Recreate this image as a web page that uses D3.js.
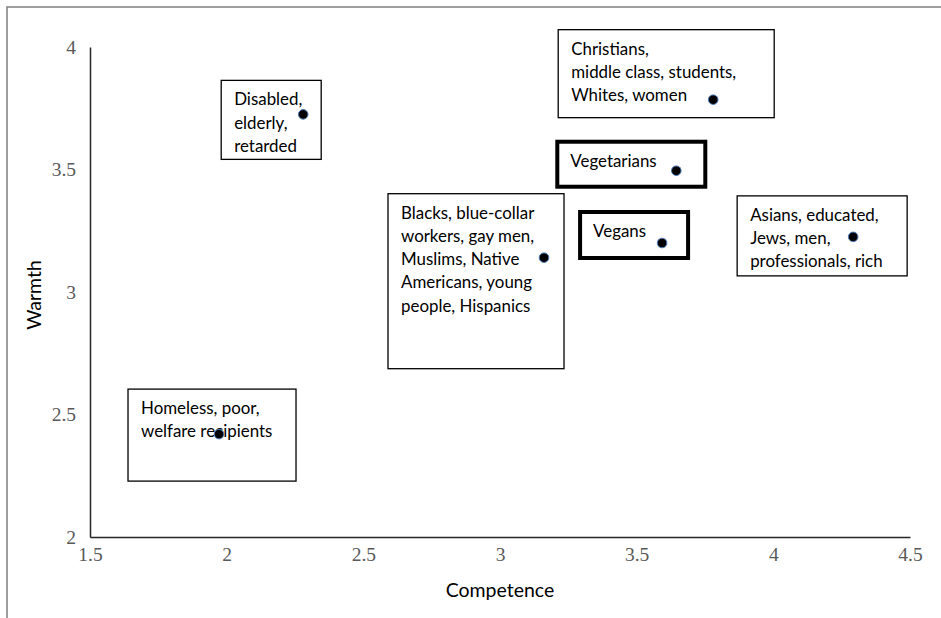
<!DOCTYPE html>
<html><head><meta charset="utf-8">
<script src="https://cdn.jsdelivr.net/npm/d3@7"></script>
<style>body{margin:0;background:#fff;} svg{display:block;}</style>
</head><body>
<svg id="chart" width="941" height="618"></svg>
<script>
// Data
const groups = ["Disabled","Christians","Vegetarians","Vegans","Blacks","Asians","Homeless"];
const competence = [2.28, 3.78, 3.645, 3.593, 3.161, 4.292, 1.972];
const warmth = [3.725, 3.785, 3.495, 3.2, 3.14, 3.225, 2.42];
const labelLines = [
  ["Disabled,","elderly,","retarded"],
  ["Christians,","middle class, students,","Whites, women"],
  ["Vegetarians"],
  ["Vegans"],
  ["Blacks, blue-collar","workers, gay men,","Muslims, Native","Americans, young","people, Hispanics"],
  ["Asians, educated,","Jews, men,","professionals, rich"],
  ["Homeless, poor,","welfare recipients"]
];
const highlighted = [false,false,true,true,false,false,false];
const xTicks = [1.5,2,2.5,3,3.5,4,4.5];
const yTicks = [2,2.5,3,3.5,4];
// label box layout (pixel offsets relative to point: left, top, width, height)
const boxLayout = [
  [-82,-34,100,79],
  [-155,-70,216,88],
  [-119,-29,148,45],
  [-82,-31,108,46],
  [-156,-64,176,175],
  [-116,-41,170,80],
  [-91,-45,168,92]
];

const svg = d3.select("#chart");
const x = d3.scaleLinear().domain([1.5,4.5]).range([90,910]);
const y = d3.scaleLinear().domain([2,4]).range([537,47]);

// outer frame (top & left)
svg.append("path").attr("d","M7,618 V7 H941").attr("fill","none").attr("stroke","#7f7f7f").attr("stroke-width",1.5);

// axes
const xAxis = svg.append("g").attr("transform","translate(0,537)")
  .call(d3.axisBottom(x).tickValues(xTicks).tickSize(0).tickPadding(10).tickFormat(d3.format("")));
const yAxis = svg.append("g").attr("transform","translate(90,0)")
  .call(d3.axisLeft(y).tickValues(yTicks).tickSize(0).tickPadding(14).tickFormat(d3.format("")));
[xAxis,yAxis].forEach(a=>{
  a.select(".domain").attr("stroke","#262626").attr("stroke-width",1.5);
  a.selectAll("text").attr("font-family","'Liberation Serif', serif").attr("font-size",19.5).attr("fill","#595959");
});
yAxis.selectAll("text").attr("dy","0.32em");

// axis titles
svg.append("text").attr("x",500).attr("y",597).attr("text-anchor","middle")
  .attr("font-family","Lato, 'Open Sans', sans-serif").attr("font-size",19.5).attr("fill","#000").text("Competence");
svg.append("text").attr("transform","translate(41,295) rotate(-90)").attr("text-anchor","middle")
  .attr("font-family","Lato, 'Open Sans', sans-serif").attr("font-size",19.5).attr("fill","#000").text("Warmth");

// boxes and labels
groups.forEach((g,i)=>{
  const px = x(competence[i]), py = y(warmth[i]);
  const [dl,dt,w,h] = boxLayout[i];
  svg.append("rect").attr("x",px+dl).attr("y",py+dt).attr("width",w).attr("height",h)
    .attr("fill","#fff").attr("stroke","#000").attr("stroke-width",highlighted[i]?4:1.3);
  const t = svg.append("text").attr("font-family","Lato, 'Open Sans', sans-serif").attr("font-size",16.9).attr("fill","#000");
  labelLines[i].forEach((ln,j)=>{
    t.append("tspan").attr("x",px+dl+13).attr("y",py+dt+25).attr("dy",j*23.2).text(ln);
  });
});

// points
svg.selectAll("circle.pt").data(groups).join("circle").attr("class","pt")
  .attr("cx",(d,i)=>x(competence[i])).attr("cy",(d,i)=>y(warmth[i])).attr("r",4.8)
  .attr("fill","#000").attr("stroke","#4a7ebb").attr("stroke-width",1);
</script>
</body></html>
